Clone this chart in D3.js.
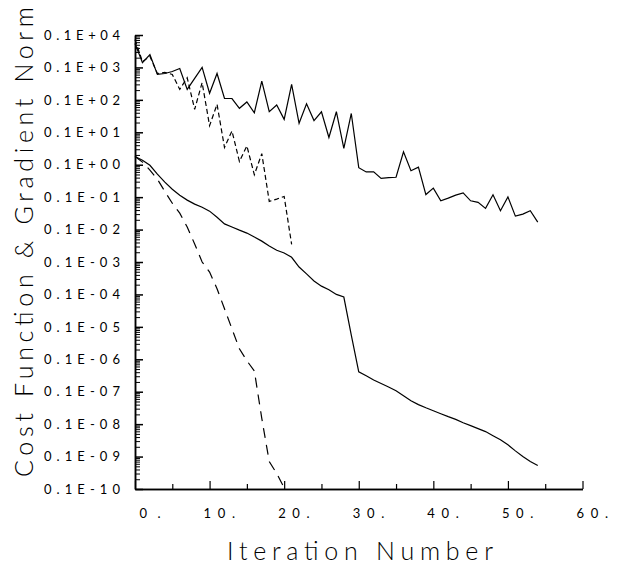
<!DOCTYPE html>
<html><head><meta charset="utf-8">
<script src="https://cdn.jsdelivr.net/npm/d3@7"></script>
<style>body{margin:0;background:#fff}svg{display:block}</style>
</head><body>
<svg id="chart" width="621" height="569" xmlns="http://www.w3.org/2000/svg"></svg>
<script>
// Iteration index = position in array (0,1,2,...)
const upperSolid = [5.5e2,1.4e2,2.5e2,6.1e1,6.5e1,7.5e1,9.3e1,2.1e1,4.6e1,1.0e2,
  1.6e1,6.5e1,1.1e1,1.1e1,5.5,8.6,4.0,3.8e1,4.3,6.9,
  2.5,3.0e1,1.9,7.6,2.3,4.3,0.69,4.3,0.32,3.8,
  0.081,0.060,0.060,0.038,0.040,0.041,0.25,0.065,0.084,0.012,
  0.019,0.0077,0.0093,0.0115,0.0135,0.0077,0.0069,0.0045,0.0118,0.0038,
  0.0102,0.0026,0.0030,0.0038,0.0017];
const upperDashed = [7.2e2,1.5e2,2.2e2,6.5e1,7.0e1,6.1e1,2.1e1,4.8e1,5.1,3.4e1,
  1.6,7.3,0.34,1.1,0.126,0.38,0.049,0.22,0.0074,0.0087,
  0.0105,0.00035];
const lowerSolid = [0.18,0.138,0.096,0.051,0.029,0.0176,0.0115,0.0081,0.0061,0.0049,
  0.0037,0.0024,0.0015,0.0012,9.6e-4,7.8e-4,5.9e-4,4.4e-4,3.1e-4,2.3e-4,
  1.9e-4,1.4e-4,7.0e-5,4.3e-5,2.6e-5,1.8e-5,1.4e-5,1.0e-5,8.3e-6,5.6e-7,
  4.1e-8,3.1e-8,2.3e-8,1.8e-8,1.4e-8,1.07e-8,7.5e-9,5.3e-9,4.0e-9,3.2e-9,
  2.6e-9,2.1e-9,1.7e-9,1.4e-9,1.1e-9,9.0e-10,7.3e-10,5.9e-10,4.4e-10,3.3e-10,
  2.3e-10,1.5e-10,1.0e-10,7.0e-11,5.3e-11];
const lowerDashed = [0.18,0.12,0.068,0.036,0.015,0.0065,0.0032,0.0012,3.6e-4,1.0e-4,
  4.9e-5,1.5e-5,3.6e-6,8.7e-7,2.1e-7,9.0e-8,4.4e-8,1.5e-9,7.0e-11,3.0e-11,
  1.1e-11];

const xTickValues = [0,10,20,30,40,50,60];
const xTickLabels = ["0.","10.","20.","30.","40.","50.","60."];
const xMinorTicks = [5,15,25,35,45,55];
const yTickValues = [1e3,1e2,1e1,1e0,1e-1,1e-2,1e-3,1e-4,1e-5,1e-6,1e-7,1e-8,1e-9,1e-10,1e-11];
const yTickLabels = ["0.1E+04","0.1E+03","0.1E+02","0.1E+01","0.1E+00","0.1E-01","0.1E-02",
  "0.1E-03","0.1E-04","0.1E-05","0.1E-06","0.1E-07","0.1E-08","0.1E-09","0.1E-10"];
const xTitle = "Iteration Number";
const yTitle = "Cost Function & Gradient Norm";

const svg = d3.select("#chart");
const ink = "#000";
const font = "Lato, 'DejaVu Sans', sans-serif";

const x = d3.scaleLinear().domain([0,60]).range([135,582.5]);
const y = d3.scaleLog().domain([1e-11,1e3]).range([489,35]);

// minor log ticks (2..9 in each decade)
const yMinor = [];
for (let e=-11; e<3; e++) for (let m=2; m<=9; m++) yMinor.push(m*Math.pow(10,e));

function styleAxis(g, w){
  g.selectAll("line").attr("stroke",ink).attr("stroke-width",w);
  g.select(".domain").attr("stroke",ink).attr("stroke-width",1.5);
}

// Y axis: minor + major ticks pointing into the plot
const gyMin = svg.append("g").attr("transform",`translate(${x(0)},0)`)
  .call(d3.axisLeft(y).tickValues(yMinor).tickSize(-5).tickSizeOuter(0).tickFormat(()=>""));
styleAxis(gyMin, 1);
const gy = svg.append("g").attr("transform",`translate(${x(0)},0)`)
  .call(d3.axisLeft(y).tickValues(yTickValues).tickSize(-8).tickSizeOuter(0).tickPadding(15)
    .tickFormat((d,i)=>yTickLabels[i]));
styleAxis(gy, 1.5);
gy.selectAll("text").attr("fill",ink).attr("font-family",font).attr("font-size",13)
  .attr("textLength",76).attr("lengthAdjust","spacing");

// X axis: ticks pointing up
const gxMin = svg.append("g").attr("transform",`translate(0,${y(1e-11)})`)
  .call(d3.axisBottom(x).tickValues(xMinorTicks).tickSize(-5).tickSizeOuter(0).tickFormat(()=>""));
styleAxis(gxMin, 1.2);
const gx = svg.append("g").attr("transform",`translate(0,${y(1e-11)})`)
  .call(d3.axisBottom(x).tickValues(xTickValues).tickSize(-8).tickSizeOuter(0).tickPadding(24)
    .tickFormat((d,i)=>xTickLabels[i]));
styleAxis(gx, 1.2);
gx.selectAll("text").attr("fill",ink).attr("font-family",font).attr("font-size",13)
  .attr("text-anchor","end").attr("x",25).attr("dy","0.35em")
  .attr("textLength",(d,i)=>xTickLabels[i].length*10.5).attr("lengthAdjust","spacing");

// Data lines
const line = d3.line().x((d,i)=>x(i)).y(d=>y(d));
const series = [
  {data: upperSolid, dash: null},
  {data: upperDashed, dash: "5,3"},
  {data: lowerSolid, dash: null},
  {data: lowerDashed, dash: "10,7"}
];
svg.append("g").selectAll("path").data(series).join("path")
  .attr("d",d=>line(d.data))
  .attr("fill","none").attr("stroke",ink).attr("stroke-width",1.2)
  .attr("stroke-dasharray",d=>d.dash);

// Titles
svg.append("text").attr("x",360).attr("y",560).attr("text-anchor","middle")
  .attr("font-family",font).attr("font-weight",300).attr("font-size",25).attr("fill",ink)
  .attr("textLength",266).attr("lengthAdjust","spacing").text(xTitle);
svg.append("text").attr("transform","translate(33,242) rotate(-90)").attr("text-anchor","middle")
  .attr("font-family",font).attr("font-weight",300).attr("font-size",25).attr("fill",ink)
  .attr("textLength",470).attr("lengthAdjust","spacing").text(yTitle);
</script>
</body></html>
